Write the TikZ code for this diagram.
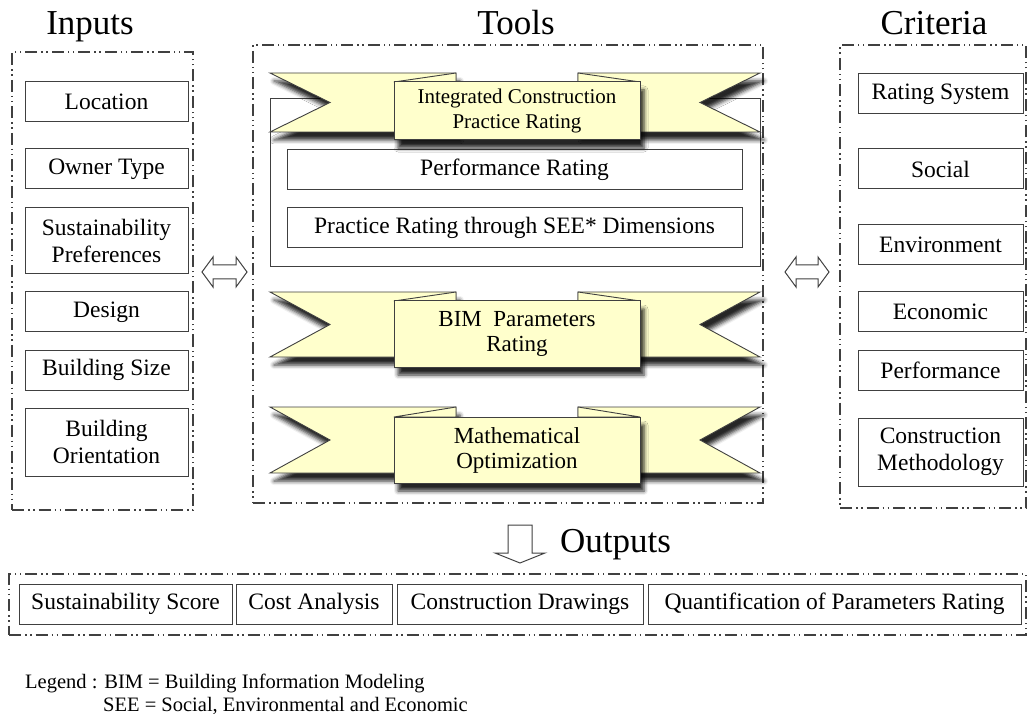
\documentclass[tikz,border=0pt]{standalone}
\usepackage{fontspec}
\setmainfont{Liberation Serif}
\usetikzlibrary{shadows.blur}

\definecolor{ribbonfill}{HTML}{FFFFCC}
\definecolor{edge}{HTML}{404040}

\tikzset{
  group/.style={draw=edge, line width=1.1pt,
    dash pattern=on 12pt off 4pt on 1.5pt off 3.5pt on 1.5pt off 4pt},
  item/.style={draw=edge, line width=1pt, fill=white, inner sep=0pt,
    align=center, font=\fontsize{23.5}{27}\selectfont},
  title/.style={anchor=base, inner sep=0pt, font=\fontsize{35}{40}\selectfont},
  legendtext/.style={anchor=base west, inner sep=0pt, font=\fontsize{20.5}{24}\selectfont},
  ribbonshadow/.style={blur shadow={shadow xshift=4pt, shadow yshift=-8pt,
    shadow blur radius=4pt, shadow opacity=85}},
  wing/.style={draw=edge, line width=0.9pt, fill=ribbonfill, ribbonshadow},
  fold/.style={draw=edge, line width=0.9pt, fill=ribbonfill, line join=round},
  panel/.style={draw=edge, line width=1pt, fill=ribbonfill, align=center,
    inner sep=0pt, minimum width=246, ribbonshadow},
  hollow/.style={draw=edge, line width=1pt, fill=white}
}

% ribbon banner: #1 name, #2/#3 wing top/bottom, #4/#5 panel top/bottom,
% #6 font size, #7 text
\newcommand\drawribbon[7]{%
  \path[wing] (270,#2) -- (456,#2) -- (456,#3) -- (270,#3)
    -- (330,{(#2+#3)/2}) -- cycle;
  \path[wing] (760,#2) -- (578,#2) -- (578,#3) -- (760,#3)
    -- (700,{(#2+#3)/2}) -- cycle;
  \path[fold] (394,#4) -- (456,#2) -- (456,#4) -- cycle;
  \path[fold] (640,#4) -- (578,#2) -- (578,#4) -- cycle;
  \node[panel, minimum height={#5-#4}, font=\fontsize{#6}{25}\selectfont]
    (#1) at (517,{(#4+#5)/2}) {#7};
}

\begin{document}
\begin{tikzpicture}[x=1pt, y=-1pt]
\useasboundingbox (0,0) rectangle (1029,714);

% column titles
\node[title] (tinputs) at (90,35) {Inputs};
\node[title] (ttools) at (516,35) {Tools};
\node[title] (tcriteria) at (934,35) {Criteria};

% dash-dotted groups
\node[group, minimum width=181, minimum height=458] (inputs) at (102.5,281) {};
\node[group, minimum width=510, minimum height=458] (tools) at (508,274) {};
\node[group, minimum width=186, minimum height=463] (criteria) at (933,276.5) {};
\node[group, minimum width=1017, minimum height=61] (outputs) at (517.5,604.5) {};

% inputs
\begin{scope}[every node/.append style={item, minimum width=163}]
  \node[minimum height=40] (loc) at (106.5,102) {Location};
  \node[minimum height=40] (owner) at (106.5,169) {Owner Type};
  \node[minimum height=66] (pref) at (106.5,241) {Sustainability\\Preferences};
  \node[minimum height=40] (design) at (106.5,312) {Design};
  \node[minimum height=40] (size) at (106.5,370) {Building Size};
  \node[minimum height=68] (orient) at (106.5,442) {Building\\Orientation};
\end{scope}

% criteria
\begin{scope}[every node/.append style={item, minimum width=165}]
  \node[minimum height=40] (rating) at (940.5,94) {Rating System};
  \node[minimum height=40] (social) at (940.5,169) {Social};
  \node[minimum height=40] (env) at (940.5,245) {Environment};
  \node[minimum height=40] (econ) at (940.5,312) {Economic};
  \node[minimum height=40] (perf) at (940.5,370) {Performance};
  \node[minimum height=68] (method) at (940.5,452) {Construction\\Methodology};
\end{scope}

% tools
\node[item, minimum width=490, minimum height=168] (icprframe) at (515,183) {};
\node[item, minimum width=455, minimum height=40] (perfrating) at (514.5,170) {Performance Rating};
\node[item, minimum width=455, minimum height=40] (seerating) at (514.5,228) {Practice Rating through SEE* Dimensions};

\drawribbon{icpr}{73}{132}{82}{140}{21}{Integrated Construction\\Practice Rating}
\drawribbon{bim}{292}{357}{301}{367}{23}{BIM\ \ Parameters\\Rating}
\drawribbon{optim}{407}{473}{417}{483}{23}{Mathematical\\Optimization}

% two-way arrows between the columns
\coordinate (la) at (224.5,272);
\coordinate (ra) at (807,272);
\path[hollow] ([xshift=-22.5pt]la) -- ++(11,-15) -- ++(0,8) -- ++(23,0) -- ++(0,-8)
  -- ++(11,15) -- ++(-11,15) -- ++(0,-8) -- ++(-23,0) -- ++(0,8) -- cycle;
\path[hollow] ([xshift=-22pt]ra) -- ++(11,-15) -- ++(0,8) -- ++(22,0) -- ++(0,-8)
  -- ++(11,15) -- ++(-11,15) -- ++(0,-8) -- ++(-22,0) -- ++(0,8) -- cycle;

% arrow to the outputs
\coordinate (da) at (520,563);
\path[hollow] (da) -- ++(-25,-10) -- ++(13,0) -- ++(0,-28) -- ++(24,0)
  -- ++(0,28) -- ++(13,0) -- cycle;
\node[title, anchor=base west] (toutputs) at (560,552) {Outputs};

% outputs
\begin{scope}[every node/.append style={item, minimum height=40}]
  \node[minimum width=213] (score) at (125.5,604) {Sustainability Score};
  \node[minimum width=156] (cost) at (314,604) {Cost Analysis};
  \node[minimum width=246] (drawings) at (520,604) {Construction Drawings};
  \node[minimum width=373] (quant) at (834.5,604) {Quantification of Parameters Rating};
\end{scope}

% legend
\node[legendtext] (leg1) at (25,688) {Legend : BIM = Building Information Modeling};
\node[legendtext] (leg2) at (103,711) {SEE = Social, Environmental and Economic};
\end{tikzpicture}
\end{document}
